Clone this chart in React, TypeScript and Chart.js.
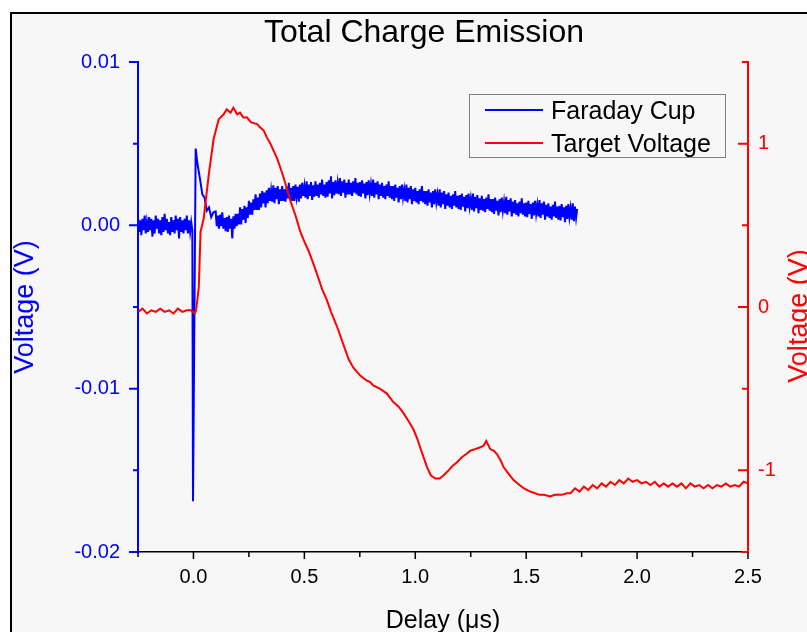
import React, { useEffect, useRef } from 'react';
import { Chart, registerables } from 'chart.js';

Chart.register(...registerables);

const W = 807;
const H = 632;

// ---------- text ----------
const chartTitle = 'Total Charge Emission';
const xAxisTitle = 'Delay (μs)';
const leftAxisTitle = 'Voltage (V)';
const rightAxisTitle = 'Voltage (V)';
const seriesNames = ['Faraday Cup', 'Target Voltage'];
const seriesColors = ['#0000ff', '#ff0000'];

// ---------- ticks ----------
const xTicks = [0, 0.5, 1, 1.5, 2, 2.5];
const xMinorTicks = [-0.25, 0.25, 0.75, 1.25, 1.75, 2.25];
const leftTicks = [-0.02, -0.01, 0, 0.01];
const leftMinorTicks = [-0.015, -0.005, 0.005];
const rightTicks = [-1, 0, 1];
const rightMinorTicks = [-1.5, -0.5, 0.5, 1.5];

// ---------- Faraday Cup (delay in µs, signal in mV) ----------
const faradayDelay = [
  -0.25, -0.245, -0.24, -0.235, -0.23, -0.225, -0.22, -0.215, -0.21, -0.205,
  -0.2, -0.195, -0.19, -0.185, -0.18, -0.175, -0.17, -0.165, -0.16, -0.155,
  -0.15, -0.145, -0.14, -0.135, -0.13, -0.125, -0.12, -0.115, -0.11, -0.105,
  -0.1, -0.095, -0.09, -0.085, -0.08, -0.075, -0.07, -0.065, -0.06, -0.055,
  -0.05, -0.045, -0.04, -0.035, -0.03, -0.025, -0.02, -0.015, -0.01,
  -0.005, -0.002, 0.01, 0.015, 0.02, 0.025,
  0.03, 0.04, 0.05, 0.06, 0.07, 0.08, 0.09,
  0.1, 0.105, 0.11, 0.115, 0.12, 0.125, 0.13, 0.135, 0.14, 0.145,
  0.15, 0.155, 0.16, 0.165, 0.17, 0.175, 0.18, 0.185, 0.19, 0.195,
  0.2, 0.205, 0.21, 0.215, 0.22, 0.225, 0.23, 0.235, 0.24, 0.245,
  0.25, 0.255, 0.26, 0.265, 0.27, 0.275, 0.28, 0.285, 0.29, 0.295,
  0.3, 0.305, 0.31, 0.315, 0.32, 0.325, 0.33, 0.335, 0.34, 0.345,
  0.35, 0.355, 0.36, 0.365, 0.37, 0.375, 0.38, 0.385, 0.39, 0.395,
  0.4, 0.405, 0.41, 0.415, 0.42, 0.425, 0.43, 0.435, 0.44, 0.445,
  0.45, 0.455, 0.46, 0.465, 0.47, 0.475, 0.48, 0.485, 0.49, 0.495,
  0.5, 0.505, 0.51, 0.515, 0.52, 0.525, 0.53, 0.535, 0.54, 0.545,
  0.55, 0.555, 0.56, 0.565, 0.57, 0.575, 0.58, 0.585, 0.59, 0.595,
  0.6, 0.605, 0.61, 0.615, 0.62, 0.625, 0.63, 0.635, 0.64, 0.645,
  0.65, 0.655, 0.66, 0.665, 0.67, 0.675, 0.68, 0.685, 0.69, 0.695,
  0.7, 0.705, 0.71, 0.715, 0.72, 0.725, 0.73, 0.735, 0.74, 0.745,
  0.75, 0.755, 0.76, 0.765, 0.77, 0.775, 0.78, 0.785, 0.79, 0.795,
  0.8, 0.805, 0.81, 0.815, 0.82, 0.825, 0.83, 0.835, 0.84, 0.845,
  0.85, 0.855, 0.86, 0.865, 0.87, 0.875, 0.88, 0.885, 0.89, 0.895,
  0.9, 0.905, 0.91, 0.915, 0.92, 0.925, 0.93, 0.935, 0.94, 0.945,
  0.95, 0.955, 0.96, 0.965, 0.97, 0.975, 0.98, 0.985, 0.99, 0.995,
  1.0, 1.005, 1.01, 1.015, 1.02, 1.025, 1.03, 1.035, 1.04, 1.045,
  1.05, 1.055, 1.06, 1.065, 1.07, 1.075, 1.08, 1.085, 1.09, 1.095,
  1.1, 1.105, 1.11, 1.115, 1.12, 1.125, 1.13, 1.135, 1.14, 1.145,
  1.15, 1.155, 1.16, 1.165, 1.17, 1.175, 1.18, 1.185, 1.19, 1.195,
  1.2, 1.205, 1.21, 1.215, 1.22, 1.225, 1.23, 1.235, 1.24, 1.245,
  1.25, 1.255, 1.26, 1.265, 1.27, 1.275, 1.28, 1.285, 1.29, 1.295,
  1.3, 1.305, 1.31, 1.315, 1.32, 1.325, 1.33, 1.335, 1.34, 1.345,
  1.35, 1.355, 1.36, 1.365, 1.37, 1.375, 1.38, 1.385, 1.39, 1.395,
  1.4, 1.405, 1.41, 1.415, 1.42, 1.425, 1.43, 1.435, 1.44, 1.445,
  1.45, 1.455, 1.46, 1.465, 1.47, 1.475, 1.48, 1.485, 1.49, 1.495,
  1.5, 1.505, 1.51, 1.515, 1.52, 1.525, 1.53, 1.535, 1.54, 1.545,
  1.55, 1.555, 1.56, 1.565, 1.57, 1.575, 1.58, 1.585, 1.59, 1.595,
  1.6, 1.605, 1.61, 1.615, 1.62, 1.625, 1.63, 1.635, 1.64, 1.645,
  1.65, 1.655, 1.66, 1.665, 1.67, 1.675, 1.68, 1.685, 1.69, 1.695,
  1.7, 1.705, 1.71, 1.715, 1.72, 1.725, 1.73,
];
const faradayMilliVolt = [
  0.5, -0.4, 0.3, -0.6, 0.4, -0.3, 0.6, -0.5, 0.2, -0.4,
  0.5, -0.3, 0.4, -0.7, 0.3, -0.5, 0.6, -0.2, 0.4, -0.5,
  0.3, -0.6, 0.5, -0.4, 0.7, -0.3, 0.4, -0.5, 0.2, -0.6,
  0.5, -0.4, 0.3, -0.5, 0.6, -0.3, 0.4, -0.8, 0.5, -0.4,
  0.3, -0.5, 0.4, -0.3, 0.6, -0.5, 0.3, -0.4, 0.2,
  -0.3, -16.9, 4.7, 4.1, 3.6, 3.2,
  2.8, 1.9, 1.7, 0.9, 1.1, 0.5, 0.8,
  0.85, -0.05, 0.6, -0.2, 0.65, -0.05, 0.8, -0.2, 0.45, -0.35,
  0.5, -0.4, 0.6, -0.2, 0.4, -0.8, 0.55, -0.2, 0.7, -0.05,
  0.7, 0.05, 1.1, 0.05, 1.0, 0.35, 1.2, 0.15, 1.1, 0.45,
  1.5, 0.65, 1.4, 0.65, 1.6, 0.95, 1.9, 0.95, 1.7, 0.95,
  1.95, 1.1, 2.1, 1.35, 2.0, 1.1, 2.15, 1.35, 2.3, 1.5,
  2.15, 1.45, 2.45, 1.35, 2.3, 1.6, 2.4, 1.3, 2.2, 1.5,
  2.4, 1.5, 2.2, 1.45, 2.35, 1.65, 2.6, 1.55, 2.3, 1.5,
  2.4, 1.5, 2.5, 1.75, 2.35, 1.45, 2.5, 1.65, 2.6, 1.8,
  2.4, 1.7, 2.7, 1.6, 2.5, 1.8, 2.65, 1.55, 2.45, 1.75,
  2.7, 1.8, 2.5, 1.7, 2.6, 1.9, 2.8, 1.8, 2.5, 1.7,
  2.65, 1.75, 2.75, 1.95, 3.0, 1.65, 2.65, 1.85, 2.75, 1.95,
  2.6, 1.9, 2.9, 1.8, 2.7, 2.0, 2.8, 1.7, 2.6, 1.9,
  2.8, 1.9, 2.6, 1.8, 2.7, 2.0, 2.9, 1.9, 2.6, 1.8,
  2.65, 1.75, 2.75, 1.95, 2.55, 1.65, 2.65, 1.85, 2.75, 1.95,
  2.5, 1.8, 2.8, 1.7, 2.6, 1.9, 2.7, 1.6, 2.5, 1.8,
  2.6, 1.7, 2.4, 1.6, 2.5, 1.8, 2.7, 1.7, 2.4, 1.6,
  2.4, 1.5, 2.5, 1.7, 2.3, 1.4, 2.4, 1.6, 2.5, 1.7,
  2.2, 1.5, 2.5, 1.4, 2.3, 1.6, 2.4, 1.3, 2.2, 1.5,
  2.3, 1.4, 2.1, 1.3, 2.2, 1.5, 2.4, 1.4, 2.1, 1.3,
  2.1, 1.2, 2.2, 1.4, 2.0, 1.1, 2.1, 1.3, 2.2, 1.4,
  1.9, 1.2, 2.2, 1.1, 2.0, 1.3, 2.1, 1.0, 1.9, 1.2,
  2.0, 1.1, 1.8, 1.0, 1.9, 1.2, 2.1, 1.1, 1.8, 1.0,
  1.85, 0.95, 1.95, 1.15, 1.75, 0.85, 1.85, 1.05, 1.95, 1.15,
  1.65, 0.95, 1.95, 0.85, 1.75, 1.05, 1.85, 0.75, 1.65, 0.95,
  1.8, 0.9, 1.6, 0.8, 1.7, 1.0, 1.9, 0.9, 1.6, 0.8,
  1.6, 0.7, 1.7, 0.9, 1.5, 0.6, 1.6, 0.8, 1.7, 0.9,
  1.45, 0.75, 1.75, 0.65, 1.55, 0.85, 1.65, 0.55, 1.45, 0.75,
  1.55, 0.65, 1.35, 0.55, 1.45, 0.75, 1.65, 0.65, 1.35, 0.55,
  1.4, 0.5, 1.5, 0.7, 1.3, 0.4, 1.4, 0.6, 1.5, 0.7,
  1.25, 0.55, 1.55, 0.45, 1.35, 0.65, 1.45, 0.35, 1.25, 0.55,
  1.35, 0.45, 1.15, 0.35, 1.25, 0.55, 1.45, 0.45, 1.15, 0.35,
  1.2, 0.3, 1.3, 0.5, 1.1, 0.2, 1.2, 0.4, 1.3, 0.5,
  1.05, 0.35, 1.35, 0.25, 1.15, 0.45, 1.0,
];

// ---------- Target Voltage (delay in µs, volts) ----------
const targetDelay = [
  -0.25, -0.23, -0.21, -0.19, -0.17, -0.15, -0.13, -0.11, -0.09, -0.07,
  -0.05, -0.03, -0.01, 0.005, 0.012, 0.018, 0.024, 0.032, 0.046, 0.069,
  0.091, 0.114, 0.136, 0.15, 0.167, 0.18, 0.197, 0.21, 0.225, 0.242,
  0.26, 0.287, 0.3, 0.317, 0.33, 0.347, 0.36, 0.377, 0.39, 0.407,
  0.42, 0.437, 0.46, 0.482, 0.5, 0.52, 0.542, 0.56, 0.58, 0.602,
  0.62, 0.632, 0.65, 0.676, 0.7, 0.72, 0.752, 0.78, 0.797, 0.81,
  0.84, 0.872, 0.9, 0.925, 0.947, 0.97, 0.992, 1.01, 1.022, 1.04,
  1.053, 1.07, 1.09, 1.11, 1.128, 1.15, 1.17, 1.188, 1.21, 1.23,
  1.248, 1.27, 1.29, 1.308, 1.32, 1.338, 1.355, 1.368, 1.385, 1.398,
  1.42, 1.443, 1.47, 1.49, 1.518, 1.54, 1.56, 1.58, 1.608, 1.63,
  1.66, 1.683, 1.7, 1.72, 1.74, 1.76, 1.78, 1.8, 1.82, 1.84,
  1.86, 1.88, 1.9, 1.92, 1.94, 1.96, 1.98, 2.0, 2.02, 2.04,
  2.06, 2.08, 2.1, 2.12, 2.14, 2.16, 2.18, 2.2, 2.22, 2.24,
  2.26, 2.28, 2.3, 2.32, 2.34, 2.36, 2.38, 2.4, 2.42, 2.44,
  2.46, 2.48, 2.5,
];
const targetVolt = [
  -0.03, -0.01, -0.04, -0.02, -0.03, -0.01, -0.03, -0.02, -0.04, -0.01,
  -0.03, -0.02, -0.02, -0.04, -0.02, 0.05, 0.12, 0.46, 0.54, 0.81,
  1.03, 1.15, 1.18, 1.21, 1.19, 1.22, 1.18, 1.19, 1.16, 1.16,
  1.13, 1.12, 1.1, 1.08, 1.04, 1.0, 0.96, 0.91, 0.86, 0.79,
  0.73, 0.65, 0.56, 0.46, 0.4, 0.34, 0.26, 0.19, 0.11, 0.04,
  -0.03, -0.07, -0.13, -0.23, -0.32, -0.37, -0.42, -0.45, -0.46, -0.48,
  -0.5, -0.53, -0.58, -0.61, -0.65, -0.7, -0.75, -0.81, -0.86, -0.93,
  -0.98, -1.03, -1.05, -1.05, -1.03, -1.0, -0.97, -0.95, -0.92, -0.9,
  -0.88, -0.87, -0.86, -0.85, -0.82, -0.87, -0.88, -0.9, -0.94, -0.98,
  -1.02, -1.06, -1.09, -1.11, -1.13, -1.14, -1.15, -1.15, -1.16, -1.15,
  -1.15, -1.14, -1.14, -1.11, -1.13, -1.1, -1.12, -1.09, -1.11, -1.08,
  -1.1, -1.07, -1.09, -1.06, -1.08, -1.05, -1.07, -1.06, -1.08, -1.07,
  -1.09, -1.07, -1.1, -1.08, -1.1, -1.08, -1.1, -1.08, -1.11, -1.08,
  -1.1, -1.09, -1.11, -1.09, -1.11, -1.09, -1.1, -1.08, -1.1, -1.09,
  -1.1, -1.07, -1.08,
];

const FONT = '"Liberation Sans", Arial, Helvetica, sans-serif';

function tickMarks(ctx: CanvasRenderingContext2D, pts: [number, number, number, number][], color: string, width: number) {
  ctx.save();
  ctx.strokeStyle = color;
  ctx.lineWidth = width;
  ctx.beginPath();
  for (const [x1, y1, x2, y2] of pts) {
    ctx.moveTo(x1, y1);
    ctx.lineTo(x2, y2);
  }
  ctx.stroke();
  ctx.restore();
}

const decorPlugin = {
  id: 'decor',
  beforeDraw(chart: any) {
    const ctx = chart.ctx as CanvasRenderingContext2D;
    ctx.save();
    ctx.fillStyle = '#ffffff';
    ctx.fillRect(0, 0, W, H);
    ctx.fillStyle = '#f7f7f7';
    ctx.fillRect(10, 12, W - 10, H - 12);
    ctx.strokeStyle = '#000000';
    ctx.lineWidth = 2;
    ctx.beginPath();
    ctx.moveTo(11, H);
    ctx.lineTo(11, 13);
    ctx.lineTo(W, 13);
    ctx.stroke();
    ctx.restore();
  },
  afterDraw(chart: any) {
    const ctx = chart.ctx as CanvasRenderingContext2D;
    const area = chart.chartArea;
    const sx = chart.scales.x;
    const sy = chart.scales.y;
    const sy1 = chart.scales.y1;

    // tick marks
    const xt: [number, number, number, number][] = [];
    xTicks.forEach((v) => { const p = sx.getPixelForValue(v); xt.push([p, area.bottom, p, area.bottom + 7]); });
    xMinorTicks.forEach((v) => { const p = sx.getPixelForValue(v); xt.push([p, area.bottom, p, area.bottom + 5]); });
    tickMarks(ctx, xt, '#000000', 1.5);

    const yt: [number, number, number, number][] = [];
    leftTicks.forEach((v) => { const p = sy.getPixelForValue(v); yt.push([area.left, p, area.left - 9, p]); });
    leftMinorTicks.forEach((v) => { const p = sy.getPixelForValue(v); yt.push([area.left, p, area.left - 5, p]); });
    tickMarks(ctx, yt, seriesColors[0], 2);

    const rt: [number, number, number, number][] = [];
    rightTicks.forEach((v) => { const p = sy1.getPixelForValue(v); rt.push([area.right, p, area.right - 10, p]); });
    rightMinorTicks.forEach((v) => { const p = sy1.getPixelForValue(v); rt.push([area.right, p, area.right - 6, p]); });
    tickMarks(ctx, rt, seriesColors[1], 2);

    ctx.save();
    // title
    ctx.fillStyle = '#000000';
    ctx.font = `32px ${FONT}`;
    ctx.textAlign = 'center';
    ctx.textBaseline = 'alphabetic';
    ctx.fillText(chartTitle, 424, 42);

    // x axis title
    ctx.font = `25px ${FONT}`;
    ctx.fillText(xAxisTitle, (area.left + area.right) / 2, 628);

    // left axis title
    ctx.save();
    ctx.translate(33, (area.top + area.bottom) / 2);
    ctx.rotate(-Math.PI / 2);
    ctx.fillStyle = seriesColors[0];
    ctx.font = `27px ${FONT}`;
    ctx.fillText(leftAxisTitle, 0, 0);
    ctx.restore();

    // right axis title
    ctx.save();
    ctx.translate(807, 316);
    ctx.rotate(-Math.PI / 2);
    ctx.fillStyle = seriesColors[1];
    ctx.font = `27px ${FONT}`;
    ctx.fillText(rightAxisTitle, 0, 0);
    ctx.restore();

    // legend
    ctx.strokeStyle = '#808080';
    ctx.lineWidth = 1;
    ctx.strokeRect(469.5, 94.5, 256, 63);
    const rows = [110, 143];
    chart.data.datasets.forEach((ds: any, i: number) => {
      ctx.strokeStyle = ds.borderColor;
      ctx.lineWidth = 2;
      ctx.beginPath();
      ctx.moveTo(485, rows[i]);
      ctx.lineTo(543, rows[i]);
      ctx.stroke();
      ctx.fillStyle = '#000000';
      ctx.font = `25px ${FONT}`;
      ctx.textAlign = 'left';
      ctx.fillText(ds.label, 551, rows[i] + 9);
    });
    ctx.restore();
  },
};

export default function App() {
  const ref = useRef<HTMLCanvasElement | null>(null);

  useEffect(() => {
    const canvas = ref.current;
    if (!canvas) return;
    Chart.defaults.font.family = FONT;

    const faradayPoints = faradayDelay.map((d, i) => ({ x: d, y: faradayMilliVolt[i] / 1000 }));
    const targetPoints = targetDelay.map((d, i) => ({ x: d, y: targetVolt[i] }));

    const chart = new Chart(canvas, {
      type: 'line',
      data: {
        datasets: [
          {
            label: seriesNames[0],
            data: faradayPoints,
            borderColor: seriesColors[0],
            backgroundColor: seriesColors[0],
            borderWidth: 2,
            pointRadius: 0,
            tension: 0,
            yAxisID: 'y',
            order: 1,
          },
          {
            label: seriesNames[1],
            data: targetPoints,
            borderColor: seriesColors[1],
            backgroundColor: seriesColors[1],
            borderWidth: 2,
            pointRadius: 0,
            tension: 0,
            yAxisID: 'y1',
            order: 0,
          },
        ],
      },
      options: {
        animation: false,
        responsive: false,
        devicePixelRatio: 1,
        events: [],
        layout: { padding: { top: 62, left: 0, right: 0, bottom: 0 } },
        plugins: {
          legend: { display: false },
          title: { display: false },
          tooltip: { enabled: false },
        },
        scales: {
          x: {
            type: 'linear',
            position: 'bottom',
            min: -0.25,
            max: 2.5,
            afterBuildTicks: (s: any) => { s.ticks = xTicks.map((v) => ({ value: v })); },
            afterFit: (s: any) => { s.height = 80; },
            grid: { display: false, drawTicks: false },
            border: { display: true, color: '#000000', width: 1.5 },
            ticks: {
              padding: 13,
              color: '#000000',
              font: { size: 20 },
              autoSkip: false,
              maxRotation: 0,
              callback: (v: any) => Number(v).toFixed(1),
            },
          },
          y: {
            type: 'linear',
            position: 'left',
            min: -0.02,
            max: 0.01,
            afterBuildTicks: (s: any) => { s.ticks = leftTicks.map((v) => ({ value: v })); },
            afterFit: (s: any) => { s.width = 138; },
            grid: { display: false, drawTicks: false },
            border: { display: true, color: seriesColors[0], width: 2 },
            ticks: {
              padding: 18,
              color: seriesColors[0],
              font: { size: 20 },
              autoSkip: false,
              callback: (v: any) => Number(v).toFixed(2),
            },
          },
          y1: {
            type: 'linear',
            position: 'right',
            min: -1.5,
            max: 1.5,
            afterBuildTicks: (s: any) => { s.ticks = rightTicks.map((v) => ({ value: v })); },
            afterFit: (s: any) => { s.width = 59; },
            grid: { display: false, drawTicks: false },
            border: { display: true, color: seriesColors[1], width: 2 },
            ticks: {
              padding: 10,
              color: seriesColors[1],
              font: { size: 20 },
              autoSkip: false,
              callback: (v: any) => String(Number(v)),
            },
          },
        },
      },
      plugins: [decorPlugin],
    } as any);

    return () => chart.destroy();
  }, []);

  return (
    <div style={{ position: 'fixed', left: 0, top: 0, width: W, height: H, overflow: 'hidden' }}>
      <canvas ref={ref} width={W} height={H} style={{ display: 'block', width: W, height: H }} />
    </div>
  );
}
